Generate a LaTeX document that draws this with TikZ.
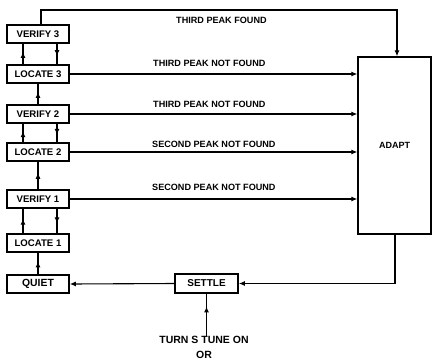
\documentclass[tikz,border=0pt]{standalone}
\usepackage{fontspec}
\setmainfont{Liberation Sans}
\usetikzlibrary{arrows.meta,decorations.markings}
\begin{document}
\begin{tikzpicture}[x=1pt,y=-1pt,
  box/.style={draw,line width=1.6pt,minimum width=62pt,minimum height=18pt,inner sep=0pt,font=\fontsize{9.6}{10}\selectfont\bfseries},
  wire/.style={line width=1.1pt},
  tip/.style={-{Latex[length=6pt,width=5pt]}},
  midtip/.style={postaction={decorate},decoration={markings,mark=at position #1 with {\arrow{Latex[length=6pt,width=5pt]}}}},
  lbl/.style={font=\fontsize{9.1}{10}\selectfont\bfseries,inner sep=0pt,anchor=base west},
  plain/.style={font=\fontsize{10.5}{11}\selectfont\bfseries,inner sep=0pt}]
\useasboundingbox (0,0) rectangle (433,362);
% left column
\node[box] (v3) at (38,34) {VERIFY 3};
\node[box] (l3) at (38,74) {LOCATE 3};
\node[box] (v2) at (38,114) {VERIFY 2};
\node[box] (l2) at (38,152) {LOCATE 2};
\node[box] (v1) at (38,199) {VERIFY 1};
\node[box] (l1) at (38,243) {LOCATE 1};
\node[box,font=\fontsize{10.4}{11}\selectfont\bfseries] (q) at (38,284) {QUIET};
% adapt and settle
\node[draw,line width=1.3pt,minimum width=73pt,minimum height=177pt,inner sep=0pt,font=\fontsize{9}{10}\selectfont\bfseries] (ad) at (394.5,145.5) {ADAPT};
\node[box,minimum width=63pt,minimum height=19pt,font=\fontsize{10}{11}\selectfont\bfseries] (se) at (206.5,283.5) {SETTLE};
\node[plain] (t1) at (204,340) {TURN S TUNE ON};
\node[plain] (t2) at (204,355) {OR};
% vertical arrows
\foreach \u/\l in {v3/l3,v2/l2,v1/l1}{
  \draw[wire,midtip=0.6] ([xshift=-15pt]\l.north) -- ([xshift=-15pt]\u.south);
  \draw[wire,midtip=0.6] ([xshift=19pt]\u.south) -- ([xshift=19pt]\l.north);
}
\foreach \u/\l in {l3/v2,l2/v1,l1/q}{
  \draw[wire,midtip=0.6] (\l.north) -- (\u.south);
}
% top connector
\coordinate (tc) at (397,10);
\draw[wire,tip] ([xshift=3pt]v3.north) |- (tc) -- (tc |- ad.north);
\node[lbl] (a1) at (176,23) {THIRD PEAK FOUND};
% connectors into ADAPT
\foreach \n in {l3,v2,l2,v1}{
  \draw[wire,tip] (\n.east) -- (\n.east -| ad.west);
}
\node[lbl] (a2) at (153,66) {THIRD PEAK NOT FOUND};
\node[lbl] (a3) at (153,107) {THIRD PEAK NOT FOUND};
\node[lbl] (a4) at (152,147) {SECOND PEAK NOT FOUND};
\node[lbl] (a5) at (152,190) {SECOND PEAK NOT FOUND};
% bottom connectors
\coordinate (bc) at (395,283.5);
\draw[wire,tip] (ad.south -| bc) -- (bc) -- (se.east);
\draw[wire,tip] (se.west) -- (q.east);
\draw[wire,midtip=0.7] (t1.north -| se.south) -- (se.south);
\end{tikzpicture}
\end{document}
